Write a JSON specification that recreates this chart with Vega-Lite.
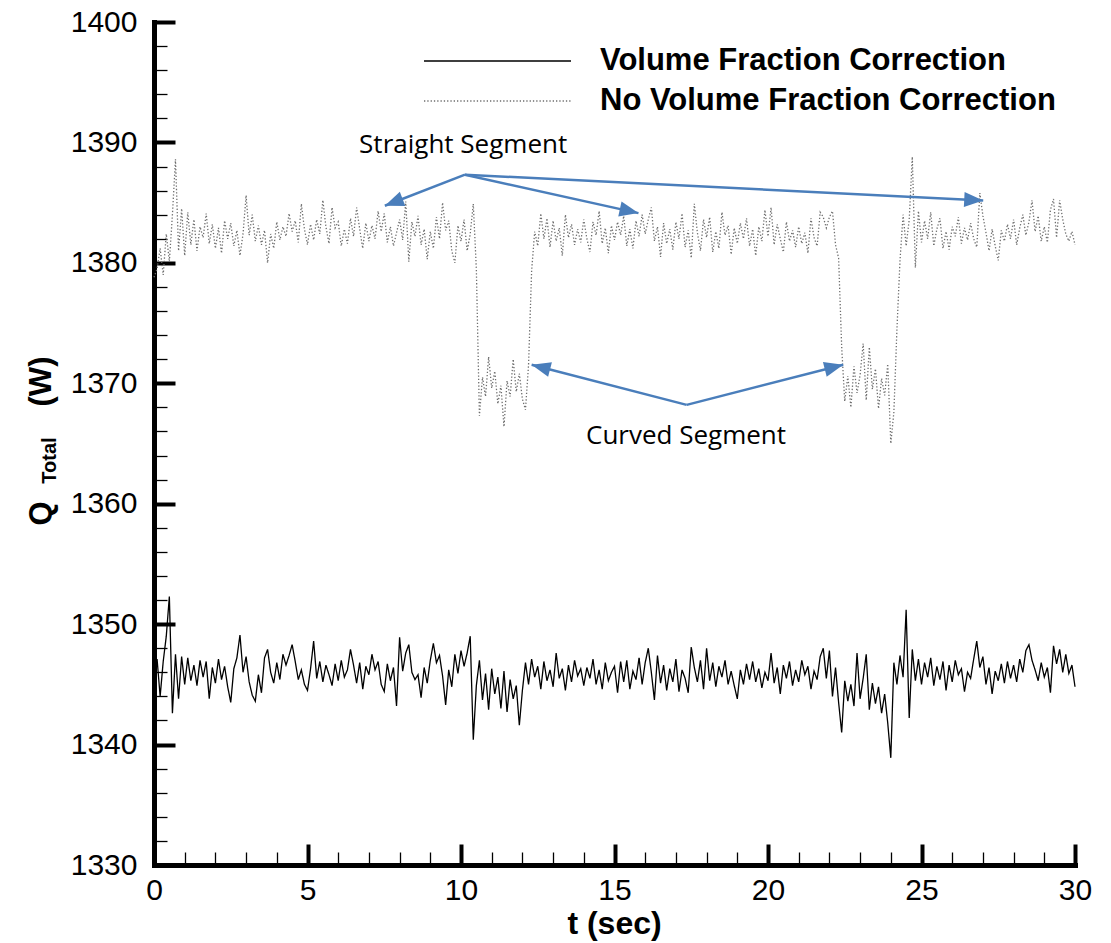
{
  "$schema": "https://vega.github.io/schema/vega-lite/v6.json",
  "width": 921,
  "height": 843,
  "autosize": {"type": "none"},
  "padding": {"left": 154, "top": 22, "right": 36, "bottom": 78},
  "background": "white",
  "config": {"view": {"stroke": null}, "axis": {"grid": false}, "font": "Liberation Sans"},
  "datasets": {
    "ts": [
      {"t":0,"vf":1345.4,"nvf":1378.8},{"t":0.1,"vf":1347.1,"nvf":1379.5},{"t":0.2,"vf":1344.0,"nvf":1381.2},{"t":0.3,"vf":1346.9,"nvf":1379.0},{"t":0.4,"vf":1349.0,"nvf":1382.4},{"t":0.5,"vf":1352.3,"nvf":1380.1},{"t":0.6,"vf":1342.6,"nvf":1384.0},{"t":0.7,"vf":1347.5,"nvf":1388.6},{"t":0.8,"vf":1343.8,"nvf":1381.0},{"t":0.9,"vf":1347.3,"nvf":1384.5},
      {"t":1,"vf":1345.0,"nvf":1380.6},{"t":1.1,"vf":1347.2,"nvf":1384.2},{"t":1.2,"vf":1345.3,"nvf":1381.5},{"t":1.3,"vf":1346.6,"nvf":1383.6},{"t":1.4,"vf":1344.9,"nvf":1381.0},{"t":1.5,"vf":1347.0,"nvf":1383.0},{"t":1.6,"vf":1345.6,"nvf":1382.1},{"t":1.7,"vf":1346.9,"nvf":1384.1},{"t":1.8,"vf":1343.8,"nvf":1381.6},{"t":1.9,"vf":1346.4,"nvf":1383.2},
      {"t":2,"vf":1345.1,"nvf":1381.2},{"t":2.1,"vf":1347.1,"nvf":1382.9},{"t":2.2,"vf":1345.4,"nvf":1380.8},{"t":2.3,"vf":1346.5,"nvf":1383.5},{"t":2.4,"vf":1344.8,"nvf":1382.0},{"t":2.5,"vf":1343.5,"nvf":1383.3},{"t":2.6,"vf":1346.3,"nvf":1381.4},{"t":2.7,"vf":1347.2,"nvf":1382.7},{"t":2.8,"vf":1349.1,"nvf":1380.6},{"t":2.9,"vf":1346.0,"nvf":1382.4},
      {"t":3,"vf":1347.3,"nvf":1385.6},{"t":3.1,"vf":1345.2,"nvf":1382.3},{"t":3.2,"vf":1344.1,"nvf":1384.0},{"t":3.3,"vf":1343.6,"nvf":1381.8},{"t":3.4,"vf":1345.8,"nvf":1383.1},{"t":3.5,"vf":1344.3,"nvf":1381.5},{"t":3.6,"vf":1347.2,"nvf":1382.7},{"t":3.7,"vf":1347.9,"nvf":1380.0},{"t":3.8,"vf":1346.0,"nvf":1382.4},{"t":3.9,"vf":1345.1,"nvf":1381.2},
      {"t":4,"vf":1346.8,"nvf":1383.4},{"t":4.1,"vf":1345.4,"nvf":1381.9},{"t":4.2,"vf":1347.5,"nvf":1383.0},{"t":4.3,"vf":1346.6,"nvf":1382.2},{"t":4.4,"vf":1347.4,"nvf":1384.1},{"t":4.5,"vf":1348.3,"nvf":1382.6},{"t":4.6,"vf":1346.9,"nvf":1383.5},{"t":4.7,"vf":1345.4,"nvf":1381.7},{"t":4.8,"vf":1346.2,"nvf":1384.9},{"t":4.9,"vf":1345.0,"nvf":1382.8},
      {"t":5,"vf":1344.5,"nvf":1381.5},{"t":5.1,"vf":1346.3,"nvf":1383.2},{"t":5.2,"vf":1348.6,"nvf":1381.9},{"t":5.3,"vf":1345.5,"nvf":1383.6},{"t":5.4,"vf":1346.9,"nvf":1382.4},{"t":5.5,"vf":1345.2,"nvf":1385.2},{"t":5.6,"vf":1346.6,"nvf":1383.0},{"t":5.7,"vf":1345.8,"nvf":1381.6},{"t":5.8,"vf":1344.9,"nvf":1384.6},{"t":5.9,"vf":1346.7,"nvf":1382.9},
      {"t":6,"vf":1345.3,"nvf":1383.4},{"t":6.1,"vf":1347.0,"nvf":1381.4},{"t":6.2,"vf":1345.6,"nvf":1382.8},{"t":6.3,"vf":1346.2,"nvf":1381.6},{"t":6.4,"vf":1347.9,"nvf":1383.7},{"t":6.5,"vf":1346.6,"nvf":1382.2},{"t":6.6,"vf":1345.1,"nvf":1384.6},{"t":6.7,"vf":1346.8,"nvf":1382.8},{"t":6.8,"vf":1344.6,"nvf":1381.2},{"t":6.9,"vf":1346.5,"nvf":1383.3},
      {"t":7,"vf":1345.8,"nvf":1381.8},{"t":7.1,"vf":1347.5,"nvf":1383.1},{"t":7.2,"vf":1346.2,"nvf":1382.0},{"t":7.3,"vf":1346.9,"nvf":1384.3},{"t":7.4,"vf":1345.0,"nvf":1382.6},{"t":7.5,"vf":1344.4,"nvf":1384.1},{"t":7.6,"vf":1346.7,"nvf":1381.7},{"t":7.7,"vf":1345.3,"nvf":1383.0},{"t":7.8,"vf":1346.4,"nvf":1381.4},{"t":7.9,"vf":1343.2,"nvf":1382.5},
      {"t":8,"vf":1348.9,"nvf":1383.6},{"t":8.1,"vf":1346.1,"nvf":1381.9},{"t":8.2,"vf":1347.6,"nvf":1385.1},{"t":8.3,"vf":1348.3,"nvf":1380.1},{"t":8.4,"vf":1346.0,"nvf":1383.4},{"t":8.5,"vf":1345.4,"nvf":1382.2},{"t":8.6,"vf":1345.8,"nvf":1383.9},{"t":8.7,"vf":1343.9,"nvf":1381.5},{"t":8.8,"vf":1346.4,"nvf":1382.8},{"t":8.9,"vf":1345.1,"nvf":1380.3},
      {"t":9,"vf":1347.0,"nvf":1382.6},{"t":9.1,"vf":1348.4,"nvf":1381.2},{"t":9.2,"vf":1346.8,"nvf":1383.8},{"t":9.3,"vf":1347.4,"nvf":1382.0},{"t":9.4,"vf":1345.7,"nvf":1385.0},{"t":9.5,"vf":1343.3,"nvf":1382.7},{"t":9.6,"vf":1346.2,"nvf":1383.5},{"t":9.7,"vf":1344.8,"nvf":1381.0},{"t":9.8,"vf":1347.5,"nvf":1380.0},{"t":9.9,"vf":1345.9,"nvf":1383.1},
      {"t":10,"vf":1347.8,"nvf":1381.8},{"t":10.1,"vf":1346.5,"nvf":1383.6},{"t":10.2,"vf":1347.6,"nvf":1381.0},{"t":10.3,"vf":1349.0,"nvf":1382.4},{"t":10.4,"vf":1340.4,"nvf":1384.9},{"t":10.5,"vf":1344.9,"nvf":1379.5},{"t":10.6,"vf":1347.0,"nvf":1367.3},{"t":10.7,"vf":1343.7,"nvf":1370.5},{"t":10.8,"vf":1345.9,"nvf":1368.9},{"t":10.9,"vf":1342.9,"nvf":1372.2},
      {"t":11,"vf":1346.3,"nvf":1369.6},{"t":11.1,"vf":1344.2,"nvf":1371.0},{"t":11.2,"vf":1345.6,"nvf":1368.3},{"t":11.3,"vf":1343.0,"nvf":1369.8},{"t":11.4,"vf":1346.1,"nvf":1366.4},{"t":11.5,"vf":1342.7,"nvf":1370.2},{"t":11.6,"vf":1345.4,"nvf":1368.9},{"t":11.7,"vf":1343.8,"nvf":1372.0},{"t":11.8,"vf":1344.9,"nvf":1369.3},{"t":11.9,"vf":1341.6,"nvf":1370.8},
      {"t":12,"vf":1344.5,"nvf":1368.7},{"t":12.1,"vf":1346.8,"nvf":1367.8},{"t":12.2,"vf":1345.0,"nvf":1371.5},{"t":12.3,"vf":1347.1,"nvf":1379.3},{"t":12.4,"vf":1345.6,"nvf":1382.6},{"t":12.5,"vf":1346.5,"nvf":1381.4},{"t":12.6,"vf":1344.6,"nvf":1384.1},{"t":12.7,"vf":1346.9,"nvf":1382.0},{"t":12.8,"vf":1345.3,"nvf":1383.7},{"t":12.9,"vf":1346.2,"nvf":1381.3},
      {"t":13,"vf":1344.8,"nvf":1383.5},{"t":13.1,"vf":1347.6,"nvf":1381.8},{"t":13.2,"vf":1345.5,"nvf":1382.9},{"t":13.3,"vf":1346.3,"nvf":1380.6},{"t":13.4,"vf":1344.5,"nvf":1384.0},{"t":13.5,"vf":1346.6,"nvf":1382.1},{"t":13.6,"vf":1345.2,"nvf":1383.2},{"t":13.7,"vf":1347.0,"nvf":1381.5},{"t":13.8,"vf":1345.7,"nvf":1382.8},{"t":13.9,"vf":1346.3,"nvf":1381.7},
      {"t":14,"vf":1344.9,"nvf":1383.6},{"t":14.1,"vf":1346.4,"nvf":1382.0},{"t":14.2,"vf":1345.5,"nvf":1380.9},{"t":14.3,"vf":1347.1,"nvf":1383.4},{"t":14.4,"vf":1345.0,"nvf":1382.3},{"t":14.5,"vf":1346.2,"nvf":1384.3},{"t":14.6,"vf":1344.6,"nvf":1381.6},{"t":14.7,"vf":1346.8,"nvf":1382.9},{"t":14.8,"vf":1345.3,"nvf":1380.8},{"t":14.9,"vf":1346.0,"nvf":1383.1},
      {"t":15,"vf":1346.5,"nvf":1381.9},{"t":15.1,"vf":1344.3,"nvf":1383.4},{"t":15.2,"vf":1346.9,"nvf":1382.3},{"t":15.3,"vf":1345.2,"nvf":1383.9},{"t":15.4,"vf":1347.0,"nvf":1381.4},{"t":15.5,"vf":1344.6,"nvf":1382.8},{"t":15.6,"vf":1346.1,"nvf":1381.2},{"t":15.7,"vf":1345.4,"nvf":1383.5},{"t":15.8,"vf":1347.2,"nvf":1382.2},{"t":15.9,"vf":1345.0,"nvf":1384.0},
      {"t":16,"vf":1346.8,"nvf":1382.4},{"t":16.1,"vf":1348.0,"nvf":1383.6},{"t":16.2,"vf":1346.0,"nvf":1384.6},{"t":16.3,"vf":1343.7,"nvf":1381.8},{"t":16.4,"vf":1347.4,"nvf":1383.0},{"t":16.5,"vf":1345.1,"nvf":1380.5},{"t":16.6,"vf":1346.6,"nvf":1383.3},{"t":16.7,"vf":1344.5,"nvf":1381.6},{"t":16.8,"vf":1346.3,"nvf":1382.8},{"t":16.9,"vf":1345.2,"nvf":1381.1},
      {"t":17,"vf":1347.1,"nvf":1383.4},{"t":17.1,"vf":1344.4,"nvf":1382.0},{"t":17.2,"vf":1346.2,"nvf":1384.1},{"t":17.3,"vf":1345.5,"nvf":1381.3},{"t":17.4,"vf":1344.3,"nvf":1382.7},{"t":17.5,"vf":1348.1,"nvf":1380.4},{"t":17.6,"vf":1346.4,"nvf":1384.9},{"t":17.7,"vf":1345.2,"nvf":1382.5},{"t":17.8,"vf":1347.0,"nvf":1381.0},{"t":17.9,"vf":1344.6,"nvf":1383.6},
      {"t":18,"vf":1348.0,"nvf":1382.1},{"t":18.1,"vf":1345.3,"nvf":1383.8},{"t":18.2,"vf":1346.8,"nvf":1380.9},{"t":18.3,"vf":1344.8,"nvf":1382.6},{"t":18.4,"vf":1346.5,"nvf":1381.2},{"t":18.5,"vf":1345.6,"nvf":1384.2},{"t":18.6,"vf":1347.0,"nvf":1382.3},{"t":18.7,"vf":1345.0,"nvf":1383.1},{"t":18.8,"vf":1346.1,"nvf":1380.7},{"t":18.9,"vf":1344.9,"nvf":1382.9},
      {"t":19,"vf":1343.8,"nvf":1381.6},{"t":19.1,"vf":1346.2,"nvf":1383.3},{"t":19.2,"vf":1345.0,"nvf":1382.0},{"t":19.3,"vf":1346.7,"nvf":1383.7},{"t":19.4,"vf":1345.4,"nvf":1381.4},{"t":19.5,"vf":1346.9,"nvf":1382.8},{"t":19.6,"vf":1345.2,"nvf":1380.6},{"t":19.7,"vf":1346.3,"nvf":1383.0},{"t":19.8,"vf":1344.7,"nvf":1381.8},{"t":19.9,"vf":1346.0,"nvf":1384.4},
      {"t":20,"vf":1345.3,"nvf":1382.2},{"t":20.1,"vf":1347.6,"nvf":1384.6},{"t":20.2,"vf":1345.1,"nvf":1381.5},{"t":20.3,"vf":1346.4,"nvf":1383.2},{"t":20.4,"vf":1344.2,"nvf":1382.0},{"t":20.5,"vf":1346.6,"nvf":1380.9},{"t":20.6,"vf":1345.5,"nvf":1383.4},{"t":20.7,"vf":1346.9,"nvf":1381.8},{"t":20.8,"vf":1344.9,"nvf":1382.7},{"t":20.9,"vf":1346.2,"nvf":1381.3},
      {"t":21,"vf":1345.2,"nvf":1383.0},{"t":21.1,"vf":1347.0,"nvf":1381.6},{"t":21.2,"vf":1345.8,"nvf":1382.5},{"t":21.3,"vf":1346.5,"nvf":1380.8},{"t":21.4,"vf":1344.6,"nvf":1383.7},{"t":21.5,"vf":1346.1,"nvf":1382.1},{"t":21.6,"vf":1345.4,"nvf":1381.4},{"t":21.7,"vf":1347.3,"nvf":1384.2},{"t":21.8,"vf":1348.0,"nvf":1383.8},{"t":21.9,"vf":1345.5,"nvf":1382.9},
      {"t":22,"vf":1347.8,"nvf":1383.8},{"t":22.1,"vf":1344.0,"nvf":1384.3},{"t":22.2,"vf":1346.4,"nvf":1381.5},{"t":22.3,"vf":1343.5,"nvf":1380.4},{"t":22.4,"vf":1341.0,"nvf":1373.0},{"t":22.5,"vf":1345.3,"nvf":1368.5},{"t":22.6,"vf":1343.6,"nvf":1370.6},{"t":22.7,"vf":1345.0,"nvf":1368.0},{"t":22.8,"vf":1343.2,"nvf":1371.4},{"t":22.9,"vf":1347.6,"nvf":1369.2},
      {"t":23,"vf":1343.8,"nvf":1370.7},{"t":23.1,"vf":1345.5,"nvf":1373.3},{"t":23.2,"vf":1347.5,"nvf":1368.6},{"t":23.3,"vf":1342.9,"nvf":1373.0},{"t":23.4,"vf":1345.1,"nvf":1369.5},{"t":23.5,"vf":1343.4,"nvf":1371.2},{"t":23.6,"vf":1344.8,"nvf":1367.9},{"t":23.7,"vf":1342.6,"nvf":1370.4},{"t":23.8,"vf":1344.2,"nvf":1369.0},{"t":23.9,"vf":1341.8,"nvf":1371.6},
      {"t":24,"vf":1338.9,"nvf":1365.0},{"t":24.1,"vf":1346.8,"nvf":1367.6},{"t":24.2,"vf":1345.0,"nvf":1374.5},{"t":24.3,"vf":1347.4,"nvf":1380.2},{"t":24.4,"vf":1345.6,"nvf":1384.0},{"t":24.5,"vf":1351.2,"nvf":1381.4},{"t":24.6,"vf":1342.2,"nvf":1383.6},{"t":24.7,"vf":1347.9,"nvf":1388.8},{"t":24.8,"vf":1345.3,"nvf":1379.6},{"t":24.9,"vf":1347.1,"nvf":1384.3},
      {"t":25,"vf":1345.0,"nvf":1381.7},{"t":25.1,"vf":1346.8,"nvf":1383.5},{"t":25.2,"vf":1345.6,"nvf":1382.0},{"t":25.3,"vf":1347.2,"nvf":1384.2},{"t":25.4,"vf":1344.9,"nvf":1381.4},{"t":25.5,"vf":1346.5,"nvf":1382.8},{"t":25.6,"vf":1345.4,"nvf":1383.7},{"t":25.7,"vf":1346.9,"nvf":1381.2},{"t":25.8,"vf":1344.5,"nvf":1382.6},{"t":25.9,"vf":1346.6,"nvf":1381.1},
      {"t":26,"vf":1345.2,"nvf":1383.0},{"t":26.1,"vf":1347.0,"nvf":1382.2},{"t":26.2,"vf":1345.8,"nvf":1383.8},{"t":26.3,"vf":1346.3,"nvf":1381.6},{"t":26.4,"vf":1344.4,"nvf":1382.9},{"t":26.5,"vf":1346.0,"nvf":1381.9},{"t":26.6,"vf":1345.5,"nvf":1383.3},{"t":26.7,"vf":1347.1,"nvf":1382.0},{"t":26.8,"vf":1348.6,"nvf":1381.3},{"t":26.9,"vf":1346.4,"nvf":1385.8},
      {"t":27,"vf":1347.3,"nvf":1383.9},{"t":27.1,"vf":1345.0,"nvf":1382.5},{"t":27.2,"vf":1346.4,"nvf":1381.0},{"t":27.3,"vf":1344.2,"nvf":1382.8},{"t":27.4,"vf":1346.1,"nvf":1381.4},{"t":27.5,"vf":1345.3,"nvf":1380.2},{"t":27.6,"vf":1346.7,"nvf":1382.7},{"t":27.7,"vf":1345.1,"nvf":1381.8},{"t":27.8,"vf":1346.9,"nvf":1383.2},{"t":27.9,"vf":1345.5,"nvf":1382.0},
      {"t":28,"vf":1346.6,"nvf":1383.6},{"t":28.1,"vf":1345.2,"nvf":1381.5},{"t":28.2,"vf":1347.1,"nvf":1382.9},{"t":28.3,"vf":1346.0,"nvf":1384.0},{"t":28.4,"vf":1347.8,"nvf":1382.3},{"t":28.5,"vf":1348.3,"nvf":1383.4},{"t":28.6,"vf":1347.0,"nvf":1385.2},{"t":28.7,"vf":1346.2,"nvf":1382.6},{"t":28.8,"vf":1345.3,"nvf":1383.9},{"t":28.9,"vf":1346.8,"nvf":1381.8},
      {"t":29,"vf":1345.6,"nvf":1383.0},{"t":29.1,"vf":1346.4,"nvf":1381.7},{"t":29.2,"vf":1344.3,"nvf":1384.4},{"t":29.3,"vf":1348.2,"nvf":1385.3},{"t":29.4,"vf":1346.7,"nvf":1382.1},{"t":29.5,"vf":1347.9,"nvf":1385.2},{"t":29.6,"vf":1346.0,"nvf":1383.6},{"t":29.7,"vf":1347.5,"nvf":1382.4},{"t":29.8,"vf":1345.9,"nvf":1381.8},{"t":29.9,"vf":1346.6,"nvf":1382.6},
      {"t":30,"vf":1344.8,"nvf":1381.5}
    ],
    "arrows": [
      {"x1":10.13,"y1":1387.32,"x2":7.52,"y2":1384.74},
      {"x1":10.13,"y1":1387.32,"x2":15.78,"y2":1384.13},
      {"x1":10.13,"y1":1387.32,"x2":27.01,"y2":1385.18},
      {"x1":17.35,"y1":1368.21,"x2":12.3,"y2":1371.54},
      {"x1":17.35,"y1":1368.21,"x2":22.45,"y2":1371.54}
    ],
    "notes": [
      {"label":"Straight Segment","t":10.07,"Q":1389.15},
      {"label":"Curved Segment","t":17.33,"Q":1365.0}
    ]
  },
  "layer": [
    {
      "data": {"name": "ts"},
      "transform": [{"fold": ["vf", "nvf"], "as": ["series", "Q"]}],
      "mark": {"type": "line", "strokeWidth": 1.3},
      "encoding": {
        "x": {
          "field": "t", "type": "quantitative",
          "scale": {"domain": [0, 30], "nice": false},
          "axis": {
            "orient": "bottom", "values": [0, 5, 10, 15, 20, 25, 30], "format": "d",
            "tickSize": -21, "tickWidth": 4, "tickColor": "black",
            "domainWidth": 5, "domainColor": "black", "domainCap": "square",
            "labelFontSize": 30, "labelPadding": 31, "labelColor": "black", "labelFont": "Liberation Sans",
            "labelFlush": false, "labelOverlap": false,
            "title": "t (sec)", "titleFont": "Liberation Sans", "titleFontSize": 32, "titleFontWeight": "bold", "titleColor": "black",
            "titleX": 460, "titleY": 68, "titleBaseline": "alphabetic", "titleAlign": "center", "grid": false
          }
        },
        "y": {
          "field": "Q", "type": "quantitative",
          "scale": {"domain": [1330, 1400], "nice": false, "zero": false},
          "axis": {
            "orient": "left", "values": [1330, 1340, 1350, 1360, 1370, 1380, 1390, 1400], "format": "d",
            "tickSize": -21, "tickWidth": 4, "tickColor": "black",
            "domainWidth": 5, "domainColor": "black", "domainCap": "square",
            "labelFontSize": 30, "labelPadding": 38, "labelColor": "black", "labelFont": "Liberation Sans",
            "labelFlush": false, "labelOverlap": false,
            "title": "Q", "titleFont": "Liberation Sans", "titleFontSize": 31, "titleFontWeight": "bold", "titleColor": "black",
            "titleAngle": 270, "titleX": -104, "titleY": 491, "titleBaseline": "alphabetic", "titleAlign": "center", "grid": false
          }
        },
        "color": {
          "field": "series", "type": "nominal",
          "scale": {"domain": ["vf", "nvf"], "range": ["#000000", "#6e6e6e"]},
          "legend": {
            "orient": "none", "legendX": 269, "legendY": 19, "title": null, "padding": 0, "offset": 0,
            "symbolType": "stroke", "symbolSize": 21609, "symbolStrokeWidth": 1.5, "clipHeight": 40, "rowPadding": 0,
            "labelOffset": 28, "labelFontSize": 31, "labelFontWeight": "bold", "labelColor": "black", "labelFont": "Liberation Sans", "labelLimit": 900,
            "labelExpr": "datum.value == 'vf' ? 'Volume Fraction Correction' : 'No Volume Fraction Correction'"
          }
        },
        "strokeDash": {
          "field": "series", "type": "nominal",
          "scale": {"domain": ["vf", "nvf"], "range": [[1, 0], [1.3, 2]]},
          "legend": {
            "orient": "none", "legendX": 269, "legendY": 19, "title": null, "padding": 0, "offset": 0,
            "symbolType": "stroke", "symbolSize": 21609, "symbolStrokeWidth": 1.5, "clipHeight": 40, "rowPadding": 0,
            "labelOffset": 28, "labelFontSize": 31, "labelFontWeight": "bold", "labelColor": "black", "labelFont": "Liberation Sans", "labelLimit": 900,
            "labelExpr": "datum.value == 'vf' ? 'Volume Fraction Correction' : 'No Volume Fraction Correction'"
          }
        }
      }
    },
    {
      "data": {"name": "arrows"},
      "mark": {"type": "rule", "color": "#4a7ebb", "strokeWidth": 2.5},
      "encoding": {
        "x": {
          "field": "x1", "type": "quantitative",
          "scale": {"domain": [0, 30], "nice": false},
          "axis": {
            "orient": "bottom", "values": [1,2,3,4,6,7,8,9,11,12,13,14,16,17,18,19,21,22,23,24,26,27,28,29],
            "labels": false, "domain": false, "tickSize": -13, "tickWidth": 1.3, "tickColor": "black", "title": null, "grid": false
          }
        },
        "x2": {"field": "x2"},
        "y": {
          "field": "y1", "type": "quantitative",
          "scale": {"domain": [1330, 1400], "nice": false, "zero": false},
          "axis": {
            "orient": "left", "values": [1332,1334,1336,1338,1342,1344,1346,1348,1352,1354,1356,1358,1362,1364,1366,1368,1372,1374,1376,1378,1382,1384,1386,1388,1392,1394,1396,1398],
            "labels": false, "domain": false, "tickSize": -13, "tickWidth": 1.3, "tickColor": "black", "grid": false,
            "title": "Total", "titleFont": "Liberation Sans", "titleFontSize": 20, "titleFontWeight": "bold", "titleColor": "black",
            "titleAngle": 270, "titleX": -99, "titleY": 438, "titleBaseline": "alphabetic", "titleAlign": "center"
          }
        },
        "y2": {"field": "y2"}
      }
    },
    {
      "data": {"name": "arrows"},
      "transform": [
        {"calculate": "atan2(scale('x', datum.x2) - scale('x', datum.x1), scale('y', datum.y1) - scale('y', datum.y2)) * 180 / PI", "as": "ang"}
      ],
      "mark": {"type": "point", "shape": "M0,0L-0.4,1L0.4,1Z", "filled": true, "color": "#4a7ebb", "size": 1444, "opacity": 1, "strokeWidth": 0},
      "encoding": {
        "x": {"field": "x2", "type": "quantitative", "scale": {"domain": [0, 30], "nice": false}, "axis": null},
        "y": {
          "field": "y2", "type": "quantitative",
          "scale": {"domain": [1330, 1400], "nice": false, "zero": false},
          "axis": {
            "orient": "left", "ticks": false, "labels": false, "domain": false, "grid": false,
            "title": "(W)", "titleFont": "Liberation Sans", "titleFontSize": 31, "titleFontWeight": "bold", "titleColor": "black",
            "titleAngle": 270, "titleX": -104, "titleY": 359, "titleBaseline": "alphabetic", "titleAlign": "center"
          }
        },
        "angle": {"field": "ang", "type": "quantitative", "scale": null}
      }
    },
    {
      "data": {"name": "notes"},
      "mark": {"type": "text", "font": "Open Sans", "fontSize": 26, "color": "black", "align": "center", "baseline": "alphabetic"},
      "encoding": {
        "x": {"field": "t", "type": "quantitative", "scale": {"domain": [0, 30], "nice": false}, "axis": null},
        "y": {"field": "Q", "type": "quantitative", "scale": {"domain": [1330, 1400], "nice": false, "zero": false}, "axis": null},
        "text": {"field": "label"}
      }
    }
  ],
  "resolve": {"axis": {"x": "independent", "y": "independent"}}
}
